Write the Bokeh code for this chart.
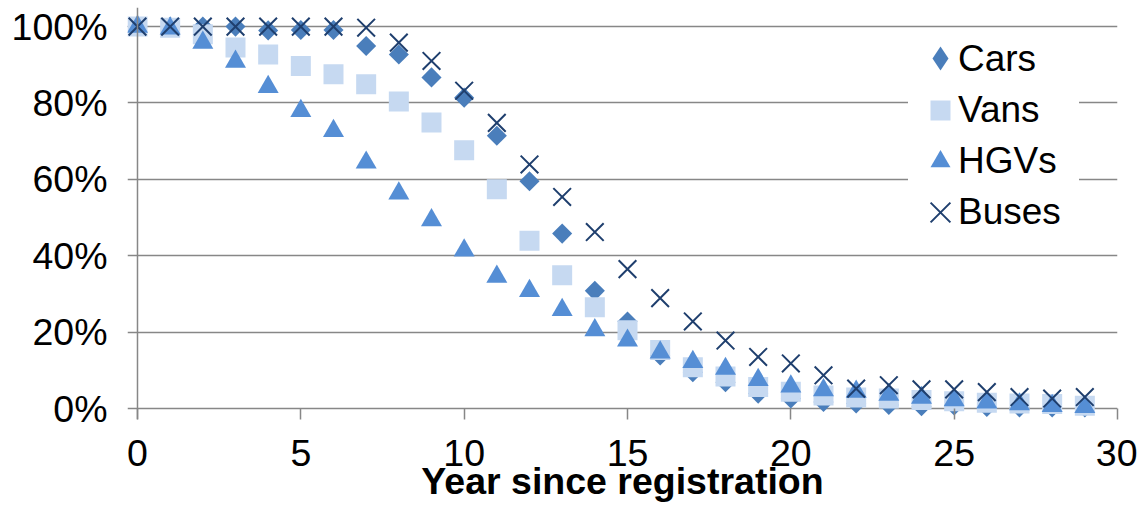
import numpy as np
from bokeh.plotting import figure
from bokeh.models import (ColumnDataSource, Range1d, FixedTicker, NumeralTickFormatter,
                          Legend, LegendItem, Span)
from bokeh.embed import file_html
from bokeh.resources import INLINE

# Share of vehicles still licensed, by years since first registration (%)
years = list(range(30))
cars = [100, 100, 100, 100, 99.0, 99.1, 99.1, 94.9, 92.7, 86.7,
        81.4, 71.4, 59.5, 45.8, 30.8, 22.8, 13.9, 9.5, 6.9, 3.9,
        2.6, 1.7, 1.3, 0.9, 0.6, 0.8, 0.4, 0.3, 0.3, 0.3]
vans = [100, 99.7, 98.0, 94.5, 92.7, 89.7, 87.5, 84.9, 80.4, 74.9,
        67.6, 57.4, 43.9, 34.9, 26.5, 20.5, 15.3, 10.8, 8.4, 5.6,
        4.4, 3.4, 2.9, 2.6, 2.2, 1.9, 1.5, 1.3, 1.2, 0.7]
hgvs = [100, 99.5, 95.8, 90.8, 84.2, 77.9, 72.7, 64.4, 56.3, 49.3,
        41.4, 34.5, 30.8, 25.8, 20.5, 17.8, 14.7, 12.2, 10.4, 7.5,
        5.8, 4.8, 4.4, 3.6, 2.8, 2.2, 1.6, 1.1, 0.7, 0.4]
buses = [100, 100, 100, 100, 100, 100, 100, 99.7, 95.8, 91.0,
         83.2, 74.8, 63.9, 55.4, 46.2, 36.5, 28.9, 22.8, 17.8, 13.5,
         11.8, 8.7, 5.2, 6.1, 5.0, 5.0, 4.3, 3.0, 2.6, 3.0]

series_names = ["Cars", "Vans", "HGVs", "Buses"]
x_ticks = [0, 5, 10, 15, 20, 25, 30]
y_ticks = [0, 0.2, 0.4, 0.6, 0.8, 1.0]
x_title = "Year since registration"

FONT = "Liberation Sans"
GREY = "#878787"
COL_CARS = "#4A7EBB"
COL_VANS = "#C6D9F1"
COL_HGVS = "#558ED5"
COL_BUSES = "#1F3F6E"

src = ColumnDataSource(dict(
    year=years,
    cars=np.array(cars) / 100,
    vans=np.array(vans) / 100,
    hgvs=np.array(hgvs) / 100,
    buses=np.array(buses) / 100,
))

# the frame runs a little past the origin so edge markers are drawn whole
p = figure(width=1137, height=515,
           x_range=Range1d(-0.306, 30), y_range=Range1d(-0.0288, 1.05),
           output_backend="svg", toolbar_location=None,
           min_border_left=127, min_border_right=20,
           min_border_top=7, min_border_bottom=96)
p.outline_line_color = None
p.background_fill_color = "white"
p.border_fill_color = "white"

p.xgrid.grid_line_color = None
p.ygrid.ticker = FixedTicker(ticks=y_ticks)
p.ygrid.grid_line_color = GREY
p.ygrid.grid_line_width = 1.5

# vertical axis line through x = 0
p.add_layout(Span(location=0, dimension="height", line_color=GREY, line_width=1.5))

# markers, drawn in series order so later series sit on top
r_cars = p.scatter("year", "cars", source=src, marker="square", angle=np.pi / 4,
                   size=14.2, fill_color=COL_CARS, line_color=None)
r_vans = p.scatter("year", "vans", source=src, marker="square", size=20,
                   fill_color=COL_VANS, line_color=None)
r_hgvs = p.scatter("year", "hgvs", source=src, marker="triangle", size=21,
                   fill_color=COL_HGVS, line_color=None)
r_buses = p.scatter("year", "buses", source=src, marker="x", size=25,
                    line_color=COL_BUSES, line_width=2)
# hidden helpers for the legend: a diamond swatch for cars, and a blank swatch
r_cars_key = p.scatter("year", "cars", source=src, marker="diamond", size=24,
                       fill_color=COL_CARS, line_color=None, visible=False)
r_blank = p.scatter("year", "cars", source=src, marker="square", size=1,
                    fill_alpha=0, line_alpha=0, visible=False)

xa = p.xaxis[0]
xa.ticker = FixedTicker(ticks=x_ticks)
xa.axis_line_color = None
xa.major_tick_line_color = GREY
xa.major_tick_line_width = 1.5
xa.major_tick_out = 0
xa.major_tick_in = 11
xa.minor_tick_line_color = None
xa.major_label_text_font = FONT
xa.major_label_text_font_size = "37.5px"
xa.major_label_text_color = "black"
xa.major_label_standoff = 20
xa.axis_label = x_title
xa.axis_label_text_font = FONT
xa.axis_label_text_font_size = "37.5px"
xa.axis_label_text_font_style = "bold"
xa.axis_label_text_color = "black"
xa.axis_label_standoff = -9

ya = p.yaxis[0]
ya.ticker = FixedTicker(ticks=y_ticks)
ya.formatter = NumeralTickFormatter(format="0%")
ya.axis_line_color = None
ya.major_tick_line_color = None
ya.major_tick_out = 0
ya.major_tick_in = 0
ya.minor_tick_line_color = None
ya.major_label_text_font = FONT
ya.major_label_text_font_size = "37.5px"
ya.major_label_text_color = "black"
ya.major_label_standoff = 20

common = dict(margin=0, padding=0, label_standoff=0, label_text_font=FONT,
              label_text_font_size="37px", label_text_color="black",
              border_line_color=None)

# legend text on a white box
leg_text = Legend(items=[LegendItem(label=name, renderers=[r_blank]) for name in series_names],
                  location=(781, 182), spacing=0,
                  glyph_width=50, glyph_height=51, label_height=51, label_width=121,
                  background_fill_color="white", background_fill_alpha=1, **common)
# legend swatches, each sized for its own marker shape
leg_cars = Legend(items=[LegendItem(label=" ", renderers=[r_cars_key])],
                  location=(783, 331), spacing=0,
                  glyph_width=60, glyph_height=60, label_height=60,
                  background_fill_alpha=0, **common)
leg_mid = Legend(items=[LegendItem(label=" ", renderers=[r_vans]),
                        LegendItem(label=" ", renderers=[r_hgvs])],
                 location=(788, 233), spacing=1,
                 glyph_width=50, glyph_height=50, label_height=50,
                 background_fill_alpha=0, **common)
leg_buses = Legend(items=[LegendItem(label=" ", renderers=[r_buses])],
                   location=(778, 172), spacing=0,
                   glyph_width=70, glyph_height=70, label_height=70,
                   background_fill_alpha=0, **common)
p.add_layout(leg_text)
p.add_layout(leg_cars)
p.add_layout(leg_mid)
p.add_layout(leg_buses)

open("out.html", "w").write(file_html(p, INLINE))
